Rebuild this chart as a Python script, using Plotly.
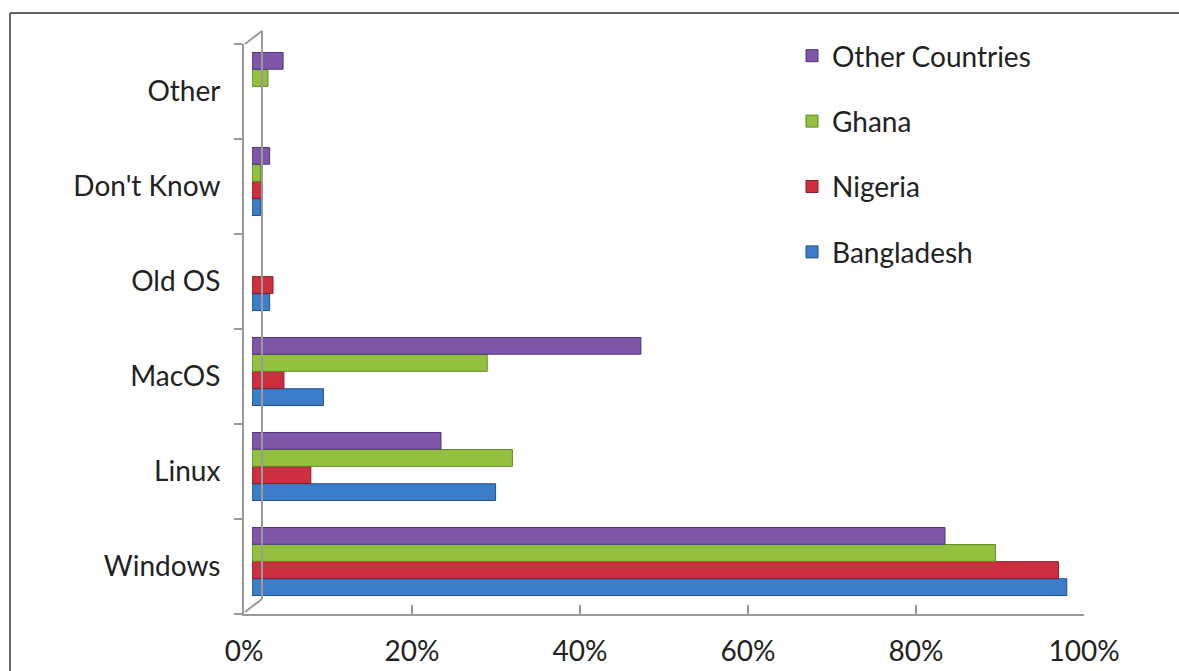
import plotly.graph_objects as go

categories = ["Windows", "Linux", "MacOS", "Old OS", "Don't Know", "Other"]
series_names = ["Bangladesh", "Nigeria", "Ghana", "Other Countries"]
bangladesh = [97, 29, 8.5, 2.1, 1.0, 0]
nigeria = [96, 7, 3.8, 2.5, 1.2, 0]
ghana = [88.5, 31, 28, 0, 1.0, 1.9]
other_countries = [82.5, 22.5, 46.3, 0, 2.1, 3.7]
tick_vals = [0, 20, 40, 60, 80, 100]
tick_text = ["0%", "20%", "40%", "60%", "80%", "100%"]

colors = ["#3b7dc9", "#cc2f3f", "#93c13f", "#7e57a8"]
edge = ["#1f4f8a", "#8a1d29", "#5f8a22", "#4f3475"]
values = [bangladesh, nigeria, ghana, other_countries]
legend_ranks = [4, 3, 2, 1]

W, H = 1179, 671
FONT = "Lato"
FS = 28


def px_x(p):
    return p / W


def px_y(p):
    return 1 - p / H


fig = go.Figure()
for i, (name, vals) in enumerate(zip(series_names, values)):
    fig.add_trace(go.Bar(
        y=categories, x=vals, name=name, orientation="h",
        marker=dict(color=colors[i],
                    line=dict(color=edge[i], width=[1 if v > 0 else 0 for v in vals])),
        legendgroup=name, legendrank=legend_ranks[i],
    ))

# front (drawn) category axis carrier
fig.add_trace(go.Scatter(
    x=[0] * len(categories), y=categories, xaxis="x2", yaxis="y2",
    mode="markers", marker=dict(opacity=0), showlegend=False, hoverinfo="skip",
))

axis_col = "#9a9a9a"
fig.update_layout(
    template="none",
    width=W, height=H, autosize=False,
    margin=dict(l=0, r=0, t=0, b=0, pad=0),
    paper_bgcolor="white", plot_bgcolor="rgba(0,0,0,0)",
    barmode="group", bargap=0.28, bargroupgap=0.02,
    font=dict(family=FONT, size=FS, color="#222222"),
    showlegend=True,
    legend=dict(
        x=px_x(792), y=px_y(31), xanchor="left", yanchor="top",
        traceorder="grouped", tracegroupgap=26,
        font=dict(family=FONT, size=FS, color="#222222"),
        bgcolor="rgba(0,0,0,0)",
    ),
    xaxis=dict(
        domain=[px_x(252), px_x(1092)], range=[0, 100], automargin=False,
        showticklabels=False, showgrid=False, zeroline=False, showline=False,
    ),
    yaxis=dict(
        domain=[px_y(609), px_y(39)], type="category", automargin=False,
        categoryorder="array", categoryarray=categories, range=[-0.5, 5.5],
        showticklabels=False, showgrid=False, zeroline=False, showline=False,
    ),
    xaxis2=dict(
        domain=[px_x(244), px_x(1084)], range=[0, 100], anchor="y2",
        automargin=False,
        tickvals=tick_vals, ticktext=tick_text,
        ticks="inside", ticklen=9, tickwidth=2, tickcolor=axis_col,
        showline=True, linecolor=axis_col, linewidth=2,
        showgrid=False, zeroline=False, ticklabelstandoff=11,
        tickfont=dict(family=FONT, size=FS, color="#222222"),
    ),
    yaxis2=dict(
        domain=[px_y(614), px_y(44)], anchor="x2", type="category",
        automargin=False,
        categoryorder="array", categoryarray=categories, range=[-0.5, 5.5],
        tickson="boundaries", ticks="outside", ticklen=8, tickwidth=2,
        tickcolor=axis_col, showline=True, linecolor=axis_col, linewidth=2,
        showgrid=False, zeroline=False, ticklabelstandoff=16,
        tickfont=dict(family=FONT, size=FS, color="#222222"),
    ),
)

# 3D wall decoration and frame
line = dict(color=axis_col, width=2)
fig.add_shape(type="line", xref="paper", yref="paper",
              x0=px_x(262), y0=px_y(31), x1=px_x(262), y1=px_y(599), line=line)
fig.add_shape(type="line", xref="paper", yref="paper",
              x0=px_x(262), y0=px_y(599), x1=px_x(245), y1=px_y(612), line=line)
fig.add_shape(type="line", xref="paper", yref="paper",
              x0=px_x(245), y0=px_y(44), x1=px_x(262), y1=px_y(31), line=line)
frame = dict(color="#333333", width=1.5)
fig.add_shape(type="line", xref="paper", yref="paper",
              x0=px_x(10), y0=px_y(13), x1=px_x(1179), y1=px_y(13), line=frame)
fig.add_shape(type="line", xref="paper", yref="paper",
              x0=px_x(10), y0=px_y(13), x1=px_x(10), y1=px_y(671), line=frame)

fig.write_html("out.html", config={"responsive": False})
